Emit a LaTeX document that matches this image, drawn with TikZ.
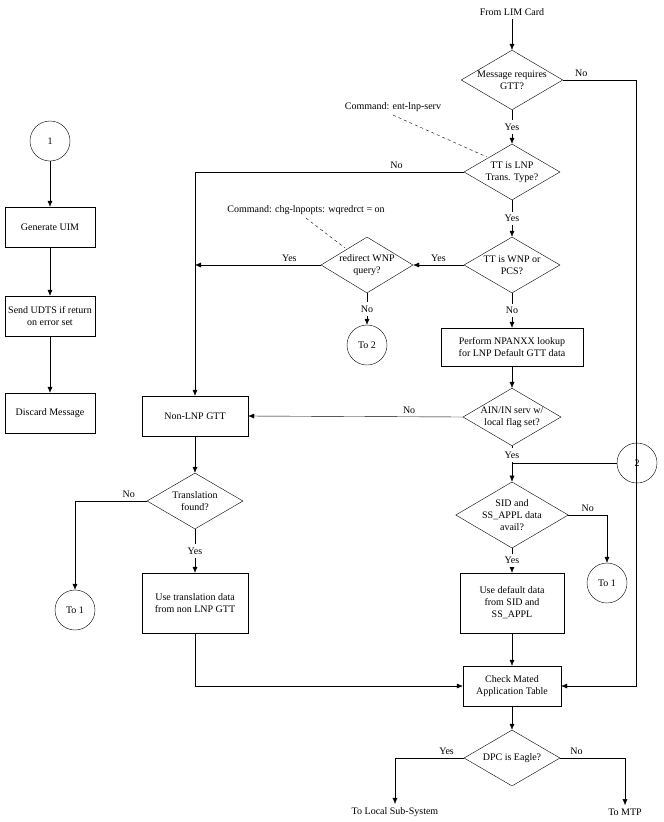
\documentclass[tikz,border=0pt]{standalone}
\usepackage{fontspec}
\setmainfont{Liberation Serif}
\usetikzlibrary{shapes.geometric, arrows.meta}

\tikzset{
  box/.style={draw, fill=white, minimum width=104pt, minimum height=40pt, align=center, inner sep=2pt},
  dec/.style={draw, diamond, aspect=1.7, minimum width=96pt, minimum height=56pt, align=center, inner sep=0pt},
  conn/.style={draw, circle, minimum size=40pt, inner sep=0pt},
  flow/.style={-{Latex[length=6pt,width=5pt]}},
  note/.style={dashed}
}

\begin{document}
\begin{tikzpicture}[x=1pt,y=-1pt,font=\fontsize{10}{12}\selectfont]
        \useasboundingbox (0,0) rectangle (664,822);

        % left column
        \node [conn] (c1) at (50,141) {1};
        \node [box, minimum width=90pt] (gen) at (50,227) {Generate UIM};
        \node [box, minimum width=90pt] (udts) at (50,316) {Send UDTS if return\\on error set};
        \node [box, minimum width=90pt] (disc) at (50,413) {Discard Message};
        \draw [flow] (c1) -- (gen);
        \draw [flow] (gen) -- (udts);
        \draw [flow] (udts) -- (disc);

        % main column
        \node (lim) at (512,12) {From LIM Card};
        \node [dec] (gtt) at (512,80) {Message requires\\GTT?};
        \node [dec] (lnp) at (512,172) {TT is LNP\\Trans. Type?};
        \node [dec] (wnp) at (512,265) {TT is WNP or\\PCS?};
        \node [dec, minimum width=92pt] (redir) at (367,265) {redirect WNP\\query?};
        \node [conn] (to2) at (367,345) {To 2};
        \node [box, minimum width=142pt, minimum height=38pt] (npanxx) at (512,347) {Perform NPANXX lookup\\for LNP Default GTT data};
        \node [dec] (ain) at (512,417) {AIN/IN serv w/\\local flag set?};
        \coordinate (j2) at (512,463);
        \node [conn] (c2) at (637,463) {2};
        \node [dec] (sid) at (512,515) {SID and\\SS\_APPL data\\avail?};
        \node [conn] (to1a) at (607,583) {To 1};
        \node [box, minimum height=60pt] (dflt) at (512,603) {Use default data\\from SID and\\SS\_APPL};
        \node [box, minimum width=98pt] (mate) at (512,686) {Check Mated\\Application Table};
        \node [dec] (dpc) at (512,758) {DPC is Eagle?};
        \node (local) at (395,812) {To Local Sub-System};
        \node (mtp) at (625,812) {To MTP};

        % non-LNP column
        \node [box, minimum width=106pt] (nonlnp) at (195,416) {Non-LNP GTT};
        \node [dec] (found) at (195,501) {Translation\\found?};
        \node [conn] (to1b) at (75,610) {To 1};
        \node [box, minimum width=106pt, minimum height=60pt] (trans) at (195,603) {Use translation data\\from non LNP GTT};

        % comments
        \node (cmd1) at (393,107) {Command: ent-lnp-serv};
        \node (cmd2) at (306,210) {Command: chg-lnpopts: wqredrct = on};
        \draw [note] (cmd1.south) -- (487,157);
        \draw [note] (cmd2.south) -- (345,248);

        % connectors
        \draw [flow] (lim) -- (gtt);
        \draw [flow] (gtt) -- node [fill=white] {Yes} (lnp);
        \draw [flow] (gtt.east) -- node [above, near start] {No} (636,80) |- (mate.east);
        \draw [flow] (lnp) -- node [fill=white] {Yes} (wnp);
        \draw [flow] (lnp.west) -- node [above, near start] {No} (195,172) -- (nonlnp.north);
        \draw [flow] (wnp) -- node [above] {Yes} (redir);
        \draw [flow] (redir.west) -- node [above, near start] {Yes} (195,265);
        \draw [flow] (redir) -- node [fill=white] {No} (to2);
        \draw [flow] (wnp) -- node [fill=white] {No} (npanxx);
        \draw [flow] (npanxx) -- (ain);
        \draw [flow] (ain.west) -- node [above, near start] {No} (nonlnp.east);
        \draw [flow] (ain) -- node [fill=white, near start] {Yes} (sid);
        \draw (c2) -- (j2);
        \draw [flow] (sid.east) -- node [above] {No} (607,515) -- (to1a);
        \draw [flow] (sid) -- node [fill=white] {Yes} (dflt);
        \draw [flow] (dflt) -- (mate);
        \draw [flow] (mate) -- (dpc);
        \draw [flow] (dpc.west) -- node [above, near start] {Yes} (395,758) -- (local.north);
        \draw [flow] (dpc.east) -- node [above, near start] {No} (625,758) -- (mtp.north);
        \draw [flow] (nonlnp) -- (found);
        \draw [flow] (found.west) -- node [above, near start] {No} (75,501) -- (to1b);
        \draw [flow] (found) -- node [fill=white] {Yes} (trans);
        \draw [flow] (trans.south) -- (195,686) -- (mate.west);
\end{tikzpicture}
\end{document}
